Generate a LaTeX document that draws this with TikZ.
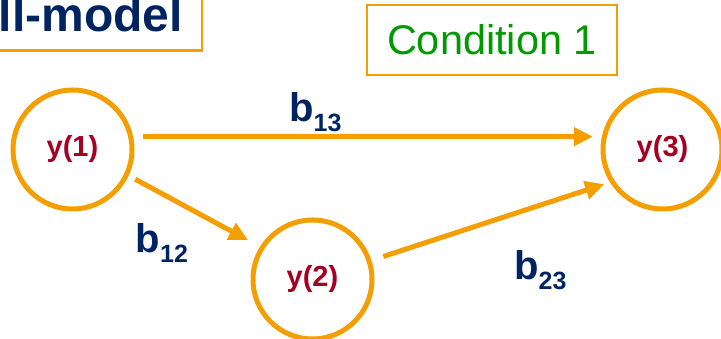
\documentclass[tikz,border=0pt]{standalone}
\usepackage{fontspec}
\setmainfont{Liberation Sans}
\usepackage{xcolor}
\usepackage{tikz}
\usetikzlibrary{positioning,calc,arrows.meta}
\definecolor{orange}{RGB}{245,158,0}
\definecolor{navy}{RGB}{0,36,98}
\definecolor{darkred}{RGB}{165,0,33}
\definecolor{green}{RGB}{0,153,0}

\newcommand{\coef}[1]{\textbf{b}\raisebox{-10pt}{\fontsize{25}{25}\selectfont\bfseries #1}}

\begin{document}
\begin{tikzpicture}[
		x=1pt,
		y=1pt,
		var/.style={
			circle,
			draw=orange,
			line width=5pt,
			fill=white,
			minimum size=119pt,
			inner sep=0pt,
			text=darkred,
			font=\fontsize{29}{34}\selectfont\bfseries
		},
		frame/.style={
			draw=orange,
			line width=2.5pt,
			inner sep=0pt
		},
		arrow/.style={-{Triangle[length=19pt,width=18pt]}, line width=5pt, draw=orange},
		coeftxt/.style={font=\fontsize{40}{46}\selectfont\bfseries, text=navy, inner sep=0pt},
		titletxt/.style={font=\fontsize{48}{56}\selectfont\bfseries, text=navy},
		condtxt/.style={font=\fontsize{41.5}{48}\selectfont, text=green}
	]
	
	% Canvas
	\useasboundingbox (0,0) rectangle (721,339);
	
	% Title and condition boxes
	\node[frame, titletxt, anchor=base east, inner xsep=19pt, inner ysep=18pt] (title) at (203,307) {ll-model};
	\node[frame, condtxt, minimum width=250pt, minimum height=70pt] (cond) at (492,299) {Condition 1};
	
	% Variables
	\node[var] (y1) at (72.5,189.5) {\raisebox{-3pt}{y(1)}};
	\node[var] (y2) at (312.5,59.5) {\raisebox{-3pt}{y(2)}};
	\node[var] (y3) at (662.5,189.5) {\raisebox{-3pt}{y(3)}};
	
	% Paths
	\draw[arrow, shorten <=10pt, shorten >=9pt] (y1.12) -- (y3.168);
	\draw[arrow, shorten <=7.5pt, shorten >=13.5pt] (y1.-25) -- (y2.148);
	\draw[arrow, shorten <=12.5pt, shorten >=6pt] (y2.18) -- (y3.212);
	
	% Coefficients
	\node[coeftxt, anchor=base west] (b13) at (289,217) {\coef{13}};
	\node[coeftxt, anchor=base west] (b12) at (135.5,86) {\coef{12}};
	\node[coeftxt, anchor=base west] (b23) at (514,59) {\coef{23}};
	
\end{tikzpicture}
\end{document}
